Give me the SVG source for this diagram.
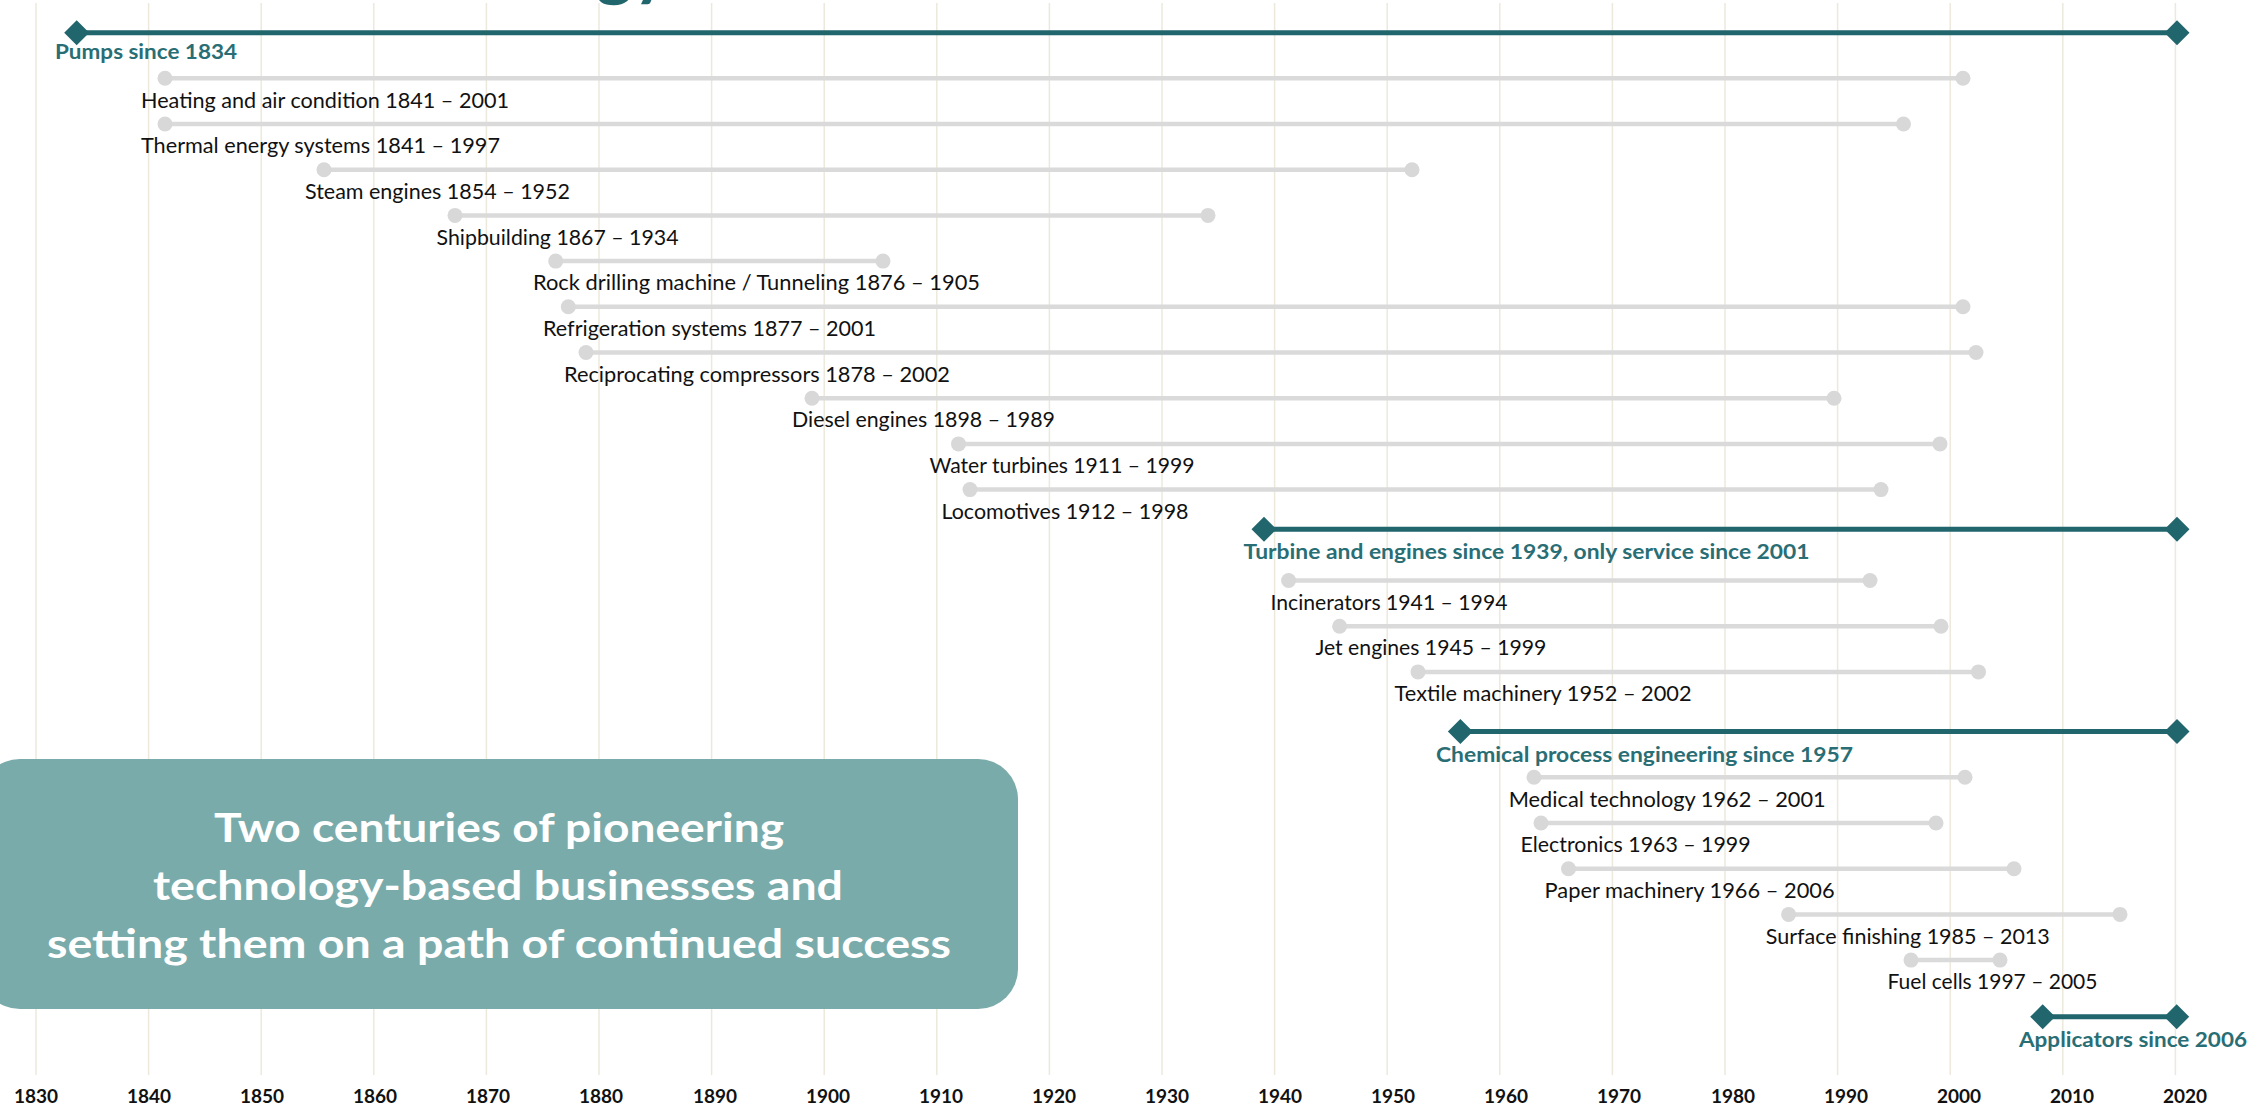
<svg xmlns="http://www.w3.org/2000/svg" width="2252" height="1110" viewBox="0 0 2252 1110">
<defs>
<style>
.grid line{stroke:#ece9dc;stroke-width:1.5}
.bar{stroke:#dadada;stroke-width:4.5;stroke-linecap:round}
.dot{fill:#d8d8d8}
.tbar{stroke:#21656d;stroke-width:5}
.dia{fill:#21656d}
.lbl{font-family:Lato,"Open Sans",sans-serif;font-size:21px;fill:#111}
.tlbl{font-family:Lato,"Open Sans",sans-serif;font-size:20px;font-weight:bold;fill:#2a6e75}
.yr{font-family:Lato,"Open Sans",sans-serif;font-size:19px;font-weight:bold;fill:#111;text-anchor:middle}
.box{fill:#7aabab}
.boxt{font-family:Lato,"Open Sans",sans-serif;font-size:40px;font-weight:bold;fill:#fff;text-anchor:middle}
</style>
<path id="d" d="M-12.5 0L0 -12.5L12.5 0L0 12.5Z"/>
</defs>
<rect width="2252" height="1110" fill="#ffffff"/>
<text x="596" y="-8" font-family="Lato,sans-serif" font-size="70" font-weight="bold" fill="#21656d">gy</text>
<g class="grid" id="grid">
<line x1="36" y1="3" x2="36" y2="1075"/><line x1="148.6" y1="3" x2="148.6" y2="1075"/><line x1="261.2" y1="3" x2="261.2" y2="1075"/><line x1="373.8" y1="3" x2="373.8" y2="1075"/><line x1="486.4" y1="3" x2="486.4" y2="1075"/><line x1="599" y1="3" x2="599" y2="1075"/><line x1="711.6" y1="3" x2="711.6" y2="1075"/><line x1="824.2" y1="3" x2="824.2" y2="1075"/><line x1="936.8" y1="3" x2="936.8" y2="1075"/><line x1="1049.4" y1="3" x2="1049.4" y2="1075"/><line x1="1162" y1="3" x2="1162" y2="1075"/><line x1="1274.6" y1="3" x2="1274.6" y2="1075"/><line x1="1387.2" y1="3" x2="1387.2" y2="1075"/><line x1="1499.8" y1="3" x2="1499.8" y2="1075"/><line x1="1612.4" y1="3" x2="1612.4" y2="1075"/><line x1="1725" y1="3" x2="1725" y2="1075"/><line x1="1837.6" y1="3" x2="1837.6" y2="1075"/><line x1="1950.2" y1="3" x2="1950.2" y2="1075"/><line x1="2062.8" y1="3" x2="2062.8" y2="1075"/><line x1="2175.4" y1="3" x2="2175.4" y2="1075"/>
</g>
<g id="years">
<text class="yr" x="36" y="1103">1830</text><text class="yr" x="149" y="1103">1840</text><text class="yr" x="262" y="1103">1850</text><text class="yr" x="375" y="1103">1860</text><text class="yr" x="488" y="1103">1870</text><text class="yr" x="601" y="1103">1880</text><text class="yr" x="715" y="1103">1890</text><text class="yr" x="828" y="1103">1900</text><text class="yr" x="941" y="1103">1910</text><text class="yr" x="1054" y="1103">1920</text><text class="yr" x="1167" y="1103">1930</text><text class="yr" x="1280" y="1103">1940</text><text class="yr" x="1393" y="1103">1950</text><text class="yr" x="1506" y="1103">1960</text><text class="yr" x="1619" y="1103">1970</text><text class="yr" x="1733" y="1103">1980</text><text class="yr" x="1846" y="1103">1990</text><text class="yr" x="1959" y="1103">2000</text><text class="yr" x="2072" y="1103">2010</text><text class="yr" x="2185" y="1103">2020</text>
</g>
<g id="connectors">
<line class="tbar" x1="76.7" y1="32.7" x2="2177" y2="32.7"/>
<line class="bar" x1="165" y1="78.3" x2="1963" y2="78.3"/>
<line class="bar" x1="165" y1="124" x2="1903.5" y2="124"/>
<line class="bar" x1="324" y1="169.7" x2="1412" y2="169.7"/>
<line class="bar" x1="455" y1="215.4" x2="1208" y2="215.4"/>
<line class="bar" x1="555.7" y1="261.1" x2="883" y2="261.1"/>
<line class="bar" x1="568.3" y1="306.8" x2="1963" y2="306.8"/>
<line class="bar" x1="586" y1="352.5" x2="1976" y2="352.5"/>
<line class="bar" x1="812" y1="398.2" x2="1834" y2="398.2"/>
<line class="bar" x1="958.5" y1="443.9" x2="1940" y2="443.9"/>
<line class="bar" x1="970" y1="489.6" x2="1881" y2="489.6"/>
<line class="tbar" x1="1264" y1="529.3" x2="2177" y2="529.3"/>
<line class="bar" x1="1288.6" y1="580.5" x2="1870" y2="580.5"/>
<line class="bar" x1="1339.6" y1="626.2" x2="1941" y2="626.2"/>
<line class="bar" x1="1418" y1="671.9" x2="1978.5" y2="671.9"/>
<line class="tbar" x1="1460.4" y1="731.5" x2="2177" y2="731.5"/>
<line class="bar" x1="1534" y1="777.3" x2="1965" y2="777.3"/>
<line class="bar" x1="1541" y1="823" x2="1936" y2="823"/>
<line class="bar" x1="1568.5" y1="868.7" x2="2014" y2="868.7"/>
<line class="bar" x1="1788.6" y1="914.4" x2="2120" y2="914.4"/>
<line class="bar" x1="1911" y1="960.1" x2="2000" y2="960.1"/>
<line class="tbar" x1="2042.7" y1="1016.7" x2="2176.7" y2="1016.7"/>
</g>
<g id="pumps"><use href="#d" class="dia" x="76.7" y="32.7"/><use href="#d" class="dia" x="2177" y="32.7"/><text class="tlbl" x="55" y="59" textLength="182" lengthAdjust="spacingAndGlyphs">Pumps since 1834</text></g>
<g id="heating"><circle class="dot" cx="165" cy="78.3" r="7.5"/><circle class="dot" cx="1963" cy="78.3" r="7.5"/><text class="lbl" x="141" y="107.5" textLength="368" lengthAdjust="spacingAndGlyphs">Heating and air condition 1841 – 2001</text></g>
<g id="thermal"><circle class="dot" cx="165" cy="124" r="7.5"/><circle class="dot" cx="1903.5" cy="124" r="7.5"/><text class="lbl" x="141" y="153.2" textLength="359" lengthAdjust="spacingAndGlyphs">Thermal energy systems 1841 – 1997</text></g>
<g id="steam"><circle class="dot" cx="324" cy="169.7" r="7.5"/><circle class="dot" cx="1412" cy="169.7" r="7.5"/><text class="lbl" x="305" y="198.9" textLength="265" lengthAdjust="spacingAndGlyphs">Steam engines 1854 – 1952</text></g>
<g id="shipbuilding"><circle class="dot" cx="455" cy="215.4" r="7.5"/><circle class="dot" cx="1208" cy="215.4" r="7.5"/><text class="lbl" x="436.6" y="244.6" textLength="242" lengthAdjust="spacingAndGlyphs">Shipbuilding 1867 – 1934</text></g>
<g id="rockdrilling"><circle class="dot" cx="555.7" cy="261.1" r="7.5"/><circle class="dot" cx="883" cy="261.1" r="7.5"/><text class="lbl" x="533" y="290.3" textLength="447" lengthAdjust="spacingAndGlyphs">Rock drilling machine / Tunneling 1876 – 1905</text></g>
<g id="refrigeration"><circle class="dot" cx="568.3" cy="306.8" r="7.5"/><circle class="dot" cx="1963" cy="306.8" r="7.5"/><text class="lbl" x="543" y="336" textLength="333" lengthAdjust="spacingAndGlyphs">Refrigeration systems 1877 – 2001</text></g>
<g id="reciprocating"><circle class="dot" cx="586" cy="352.5" r="7.5"/><circle class="dot" cx="1976" cy="352.5" r="7.5"/><text class="lbl" x="564" y="381.7" textLength="386" lengthAdjust="spacingAndGlyphs">Reciprocating compressors 1878 – 2002</text></g>
<g id="diesel"><circle class="dot" cx="812" cy="398.2" r="7.5"/><circle class="dot" cx="1834" cy="398.2" r="7.5"/><text class="lbl" x="792" y="427.4" textLength="263" lengthAdjust="spacingAndGlyphs">Diesel engines 1898 – 1989</text></g>
<g id="water"><circle class="dot" cx="958.5" cy="443.9" r="7.5"/><circle class="dot" cx="1940" cy="443.9" r="7.5"/><text class="lbl" x="929.5" y="473.1" textLength="265" lengthAdjust="spacingAndGlyphs">Water turbines 1911 – 1999</text></g>
<g id="locomotives"><circle class="dot" cx="970" cy="489.6" r="7.5"/><circle class="dot" cx="1881" cy="489.6" r="7.5"/><text class="lbl" x="941.5" y="518.8" textLength="247" lengthAdjust="spacingAndGlyphs">Locomotives 1912 – 1998</text></g>
<g id="turbine"><use href="#d" class="dia" x="1264" y="529.3"/><use href="#d" class="dia" x="2177" y="529.3"/><text class="tlbl" x="1243.6" y="559" textLength="566" lengthAdjust="spacingAndGlyphs">Turbine and engines since 1939, only service since 2001</text></g>
<g id="incinerators"><circle class="dot" cx="1288.6" cy="580.5" r="7.5"/><circle class="dot" cx="1870" cy="580.5" r="7.5"/><text class="lbl" x="1270.5" y="609.7" textLength="237" lengthAdjust="spacingAndGlyphs">Incinerators 1941 – 1994</text></g>
<g id="jet"><circle class="dot" cx="1339.6" cy="626.2" r="7.5"/><circle class="dot" cx="1941" cy="626.2" r="7.5"/><text class="lbl" x="1315.4" y="655.4" textLength="231" lengthAdjust="spacingAndGlyphs">Jet engines 1945 – 1999</text></g>
<g id="textile"><circle class="dot" cx="1418" cy="671.9" r="7.5"/><circle class="dot" cx="1978.5" cy="671.9" r="7.5"/><text class="lbl" x="1394.6" y="701.1" textLength="297" lengthAdjust="spacingAndGlyphs">Textile machinery 1952 – 2002</text></g>
<g id="chemical"><use href="#d" class="dia" x="1460.4" y="731.5"/><use href="#d" class="dia" x="2177" y="731.5"/><text class="tlbl" x="1436" y="762" textLength="417" lengthAdjust="spacingAndGlyphs">Chemical process engineering since 1957</text></g>
<g id="medical"><circle class="dot" cx="1534" cy="777.3" r="7.5"/><circle class="dot" cx="1965" cy="777.3" r="7.5"/><text class="lbl" x="1508.7" y="806.5" textLength="317" lengthAdjust="spacingAndGlyphs">Medical technology 1962 – 2001</text></g>
<g id="electronics"><circle class="dot" cx="1541" cy="823" r="7.5"/><circle class="dot" cx="1936" cy="823" r="7.5"/><text class="lbl" x="1520.6" y="852.2" textLength="230" lengthAdjust="spacingAndGlyphs">Electronics 1963 – 1999</text></g>
<g id="paper"><circle class="dot" cx="1568.5" cy="868.7" r="7.5"/><circle class="dot" cx="2014" cy="868.7" r="7.5"/><text class="lbl" x="1544.6" y="897.9" textLength="290" lengthAdjust="spacingAndGlyphs">Paper machinery 1966 – 2006</text></g>
<g id="surface"><circle class="dot" cx="1788.6" cy="914.4" r="7.5"/><circle class="dot" cx="2120" cy="914.4" r="7.5"/><text class="lbl" x="1765.8" y="943.6" textLength="284" lengthAdjust="spacingAndGlyphs">Surface finishing 1985 – 2013</text></g>
<g id="fuelcells"><circle class="dot" cx="1911" cy="960.1" r="7.5"/><circle class="dot" cx="2000" cy="960.1" r="7.5"/><text class="lbl" x="1887.5" y="989.3" textLength="210" lengthAdjust="spacingAndGlyphs">Fuel cells 1997 – 2005</text></g>
<g id="applicators"><use href="#d" class="dia" x="2042.7" y="1016.7"/><use href="#d" class="dia" x="2176.7" y="1016.7"/><text class="tlbl" x="2019" y="1047" textLength="228" lengthAdjust="spacingAndGlyphs">Applicators since 2006</text></g>
<g id="summary">
<rect class="box" x="-20" y="759" width="1038" height="250" rx="40"/>
<text class="boxt" x="499" y="841.7" textLength="570" lengthAdjust="spacingAndGlyphs">Two centuries of pioneering</text>
<text class="boxt" x="498" y="900" textLength="690" lengthAdjust="spacingAndGlyphs">technology-based businesses and</text>
<text class="boxt" x="499" y="958.3" textLength="904" lengthAdjust="spacingAndGlyphs">setting them on a path of continued success</text>
</g>
</svg>
